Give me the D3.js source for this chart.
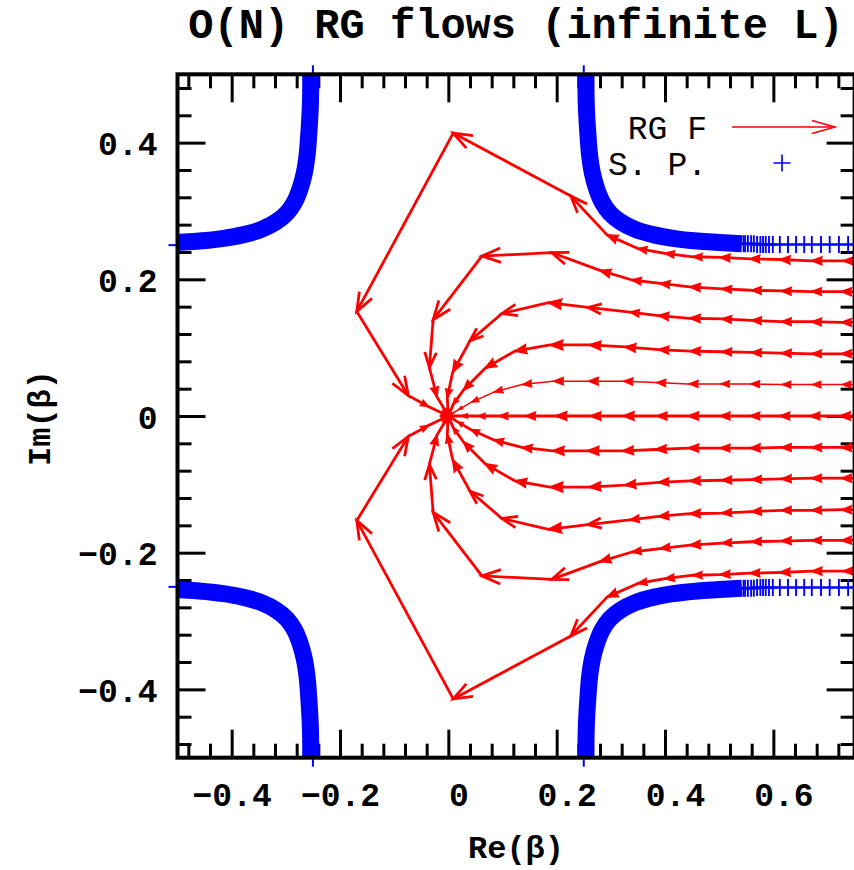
<!DOCTYPE html>
<html><head><meta charset="utf-8">
<script src="https://cdn.jsdelivr.net/npm/d3@7/dist/d3.min.js"></script>
<style>body{margin:0;background:#fff}svg{display:block}</style>
</head><body>
<svg id="chart" width="854" height="870"></svg>
<script>
// ---------------- data ----------------
const titleText = "O(N) RG flows (infinite L)";
const xLabel = "Re(\u03b2)";
const yLabel = "Im(\u03b2)";
const xTicks = [-0.4, -0.2, 0, 0.2, 0.4, 0.6];
const yTicks = [-0.4, -0.2, 0, 0.2, 0.4];
const xMinor = [-0.48,-0.44,-0.36,-0.32,-0.28,-0.24,-0.16,-0.12,-0.08,-0.04,0.04,0.08,0.12,0.16,0.24,0.28,0.32,0.36,0.44,0.48,0.52,0.56,0.64,0.68,0.72];
const yMinor = [-0.48,-0.44,-0.36,-0.32,-0.28,-0.24,-0.16,-0.12,-0.08,-0.04,0.04,0.08,0.12,0.16,0.24,0.28,0.32,0.36,0.44,0.48];
const spTicks = [-0.25, 0.25];

// RG flow trajectories (upper half plane; lower half = complex conjugates), [Re, Im]
const flowA = [[0.782,0.2265],[0.729,0.227],[0.671,0.227],[0.612,0.229],[0.557,0.230],[0.502,0.232],[0.452,0.233],[0.400,0.238],[0.350,0.245],[0.293,0.265],[0.226,0.322],[0.009,0.414],[-0.169,0.153],[-0.074,0.030],[-0.037,0.014],[0,0]];
const flowB = [[0.782,0.181],[0.726,0.182],[0.671,0.182],[0.615,0.183],[0.560,0.184],[0.505,0.186],[0.446,0.189],[0.391,0.194],[0.339,0.199],[0.280,0.213],[0.191,0.239],[0.062,0.234],[-0.028,0.141],[-0.035,0.071],[-0.021,0.028],[0,0]];
const flowC = [[0.782,0.137],[0.726,0.137],[0.671,0.138],[0.615,0.138],[0.560,0.140],[0.505,0.142],[0.446,0.143],[0.388,0.147],[0.335,0.152],[0.258,0.159],[0.185,0.166],[0.099,0.150],[0.040,0.110],[0.008,0.064],[-0.002,0.027],[0,0]];
const flowD = [[0.782,0.091],[0.726,0.091],[0.671,0.091],[0.615,0.092],[0.560,0.093],[0.505,0.094],[0.446,0.095],[0.388,0.097],[0.326,0.101],[0.260,0.104],[0.188,0.104],[0.123,0.095],[0.068,0.070],[0.028,0.038],[0.009,0.017],[0,0]];
const flowE = [[0.782,0.046],[0.726,0.046],[0.671,0.046],[0.615,0.046],[0.557,0.047],[0.502,0.047],[0.443,0.047],[0.383,0.049],[0.322,0.051],[0.257,0.051],[0.193,0.051],[0.136,0.046],[0.084,0.035],[0.042,0.020],[0.018,0.009],[0,0]];
const flowF = [[0.782,0],[0.723,0],[0.668,0],[0.612,0],[0.557,0],[0.502,0],[0.443,0],[0.385,0],[0.323,0],[0.262,0],[0.198,0],[0.143,0],[0.094,0],[0.055,0],[0.025,0],[0,0]];

// singular points, first-quadrant branch (others are mirror images), [Re, Im]
const spBand = [[0.2535,0.52],[0.254,0.50],[0.2545,0.46],[0.257,0.42],[0.261,0.38],[0.266,0.355],[0.274,0.332],[0.284,0.313],[0.298,0.297],[0.318,0.284],[0.345,0.273],[0.38,0.265],[0.415,0.260],[0.46,0.256],[0.50,0.254],[0.542,0.252]];
const spCross = [[0.545,0.252],[0.548,0.252],[0.553,0.252],[0.559,0.252],[0.564,0.252],[0.570,0.251],[0.576,0.251],[0.581,0.251],[0.586,0.251],[0.592,0.251],[0.599,0.251],[0.612,0.251],[0.627,0.251],[0.642,0.251],[0.657,0.251],[0.671,0.251],[0.688,0.251],[0.704,0.251],[0.721,0.251],[0.738,0.251],[0.754,0.251]];

// ---------------- chart ----------------
const svg = d3.select("#chart");
const x = d3.scaleLinear().domain([-0.5, 0.75]).range([177.5, 854.6]);
const y = d3.scaleLinear().domain([-0.5, 0.5]).range([757.7, 74.3]);
const RED = "#ff0000", BLUE = "#0000ff";
const MONO = "'Liberation Mono', 'DejaVu Sans Mono', monospace";

svg.append("defs").append("clipPath").attr("id", "plotclip")
  .append("rect").attr("x", x(-0.5)).attr("y", y(0.5))
  .attr("width", x(0.75) - x(-0.5)).attr("height", y(-0.5) - y(0.5));

// title
svg.append("text").attr("x", 516).attr("y", 38).attr("text-anchor", "middle")
  .attr("font-family", MONO).attr("font-weight", "bold").attr("font-size", 42)
  .text(titleText);

// axis titles
svg.append("text").attr("x", 516).attr("y", 858).attr("text-anchor", "middle")
  .attr("font-family", MONO).attr("font-weight", "bold").attr("font-size", 32)
  .text(xLabel);
svg.append("text").attr("transform", "translate(50,418) rotate(-90)").attr("text-anchor", "middle")
  .attr("font-family", MONO).attr("font-weight", "bold").attr("font-size", 32)
  .text(yLabel);

// axes (ticks inward on four sides)
function styleAxis(g) {
  g.select(".domain").remove();
  g.selectAll(".tick line").attr("stroke", "#000").attr("stroke-width", 3);
}
const gx = svg.append("g").attr("transform", `translate(0,${y(-0.5)})`)
  .call(d3.axisBottom(x).tickValues(xTicks).tickSizeInner(-28).tickSizeOuter(0).tickFormat(d3.format("")));
styleAxis(gx);
gx.selectAll("text").attr("font-family", MONO).attr("font-weight", "bold").attr("font-size", 33)
  .attr("y", 48).attr("dy", 0).attr("dx", d => d >= 0 ? 10 : 0).attr("fill", "#000");
svg.append("g").attr("transform", `translate(0,${y(-0.5)})`)
  .call(d3.axisBottom(x).tickValues(xMinor).tickSizeInner(-14).tickSizeOuter(0).tickFormat("")).call(styleAxis);
svg.append("g").attr("transform", `translate(0,${y(0.5)})`)
  .call(d3.axisTop(x).tickValues(xTicks).tickSizeInner(-28).tickSizeOuter(0).tickFormat("")).call(styleAxis);
svg.append("g").attr("transform", `translate(0,${y(0.5)})`)
  .call(d3.axisTop(x).tickValues(xMinor).tickSizeInner(-14).tickSizeOuter(0).tickFormat("")).call(styleAxis);

const gy = svg.append("g").attr("transform", `translate(${x(-0.5)},0)`)
  .call(d3.axisLeft(y).tickValues(yTicks).tickSizeInner(-28).tickSizeOuter(0).tickFormat(d3.format("")));
styleAxis(gy);
gy.selectAll("text").attr("font-family", MONO).attr("font-weight", "bold").attr("font-size", 33)
  .attr("x", -20).attr("dy", 12).attr("fill", "#000");
svg.append("g").attr("transform", `translate(${x(-0.5)},0)`)
  .call(d3.axisLeft(y).tickValues(yMinor).tickSizeInner(-14).tickSizeOuter(0).tickFormat("")).call(styleAxis);
svg.append("g").attr("transform", `translate(${x(0.75)},0)`)
  .call(d3.axisRight(y).tickValues(yTicks).tickSizeInner(-28).tickSizeOuter(0).tickFormat("")).call(styleAxis);
svg.append("g").attr("transform", `translate(${x(0.75)},0)`)
  .call(d3.axisRight(y).tickValues(yMinor).tickSizeInner(-14).tickSizeOuter(0).tickFormat("")).call(styleAxis);

// small blue marks outside the frame at the singular-point asymptotes
const blueMarks = svg.append("g").attr("stroke", BLUE).attr("stroke-width", 2);
spTicks.forEach(v => {
  blueMarks.append("line").attr("x1", x(v)).attr("x2", x(v)).attr("y1", y(0.5) - 9).attr("y2", y(0.5));
  blueMarks.append("line").attr("x1", x(v)).attr("x2", x(v)).attr("y1", y(-0.5)).attr("y2", y(-0.5) + 9);
  blueMarks.append("line").attr("x1", x(-0.5) - 9).attr("x2", x(-0.5)).attr("y1", y(v)).attr("y2", y(v));
});

const plot = svg.append("g").attr("clip-path", "url(#plotclip)");

// RG flows
function arrowHead(g, p0, p1, width) {
  const dx = p1[0] - p0[0], dy = p1[1] - p0[1];
  const L = Math.hypot(dx, dy);
  if (L < 0.5) return;
  const h = Math.min(L * 0.34, 20);
  const a = Math.atan2(dy, dx), phi = 21 * Math.PI / 180;
  const b1 = [p1[0] - h * Math.cos(a - phi), p1[1] - h * Math.sin(a - phi)];
  const b2 = [p1[0] - h * Math.cos(a + phi), p1[1] - h * Math.sin(a + phi)];
  if (h < 14) {
    const bk = [p1[0] - 0.85 * h * Math.cos(a), p1[1] - 0.85 * h * Math.sin(a)];
    g.append("path").attr("d", `M${b1}L${p1}L${b2}L${bk}Z`).attr("fill", RED).attr("stroke", RED)
      .attr("stroke-width", width * 0.6).attr("stroke-linejoin", "miter");
  } else {
    g.append("path").attr("d", `M${b1}L${p1}L${b2}`).attr("fill", "none").attr("stroke", RED)
      .attr("stroke-width", width).attr("stroke-linejoin", "miter");
  }
}
const line = d3.line().x(d => x(d[0])).y(d => y(d[1]));
function drawFlow(pts, width) {
  const g = plot.append("g");
  g.append("path").attr("d", line(pts)).attr("fill", "none").attr("stroke", RED)
    .attr("stroke-width", width).attr("stroke-linejoin", "round");
  for (let i = 1; i < pts.length; i++) {
    arrowHead(g, [x(pts[i-1][0]), y(pts[i-1][1])], [x(pts[i][0]), y(pts[i][1])], width);
  }
}
const conj = pts => pts.map(p => [p[0], -p[1]]);
[flowA, flowB, flowC, flowD].forEach(f => { drawFlow(f, 2.8); drawFlow(conj(f), 2.8); });
drawFlow(flowE, 1.5);
drawFlow(conj(flowE), 2.8);
drawFlow(flowF, 2.8);

// singular points
const band = d3.line().x(d => x(d[0])).y(d => y(d[1])).curve(d3.curveCatmullRom);
const crossPath = "M-8.5,0H8.5M0,-8.5V8.5";
[[1,1],[-1,1],[1,-1],[-1,-1]].forEach(([sr, si]) => {
  const pts = spBand.map(p => [sr * p[0], si * p[1]]);
  plot.append("path").attr("d", band(pts)).attr("fill", "none").attr("stroke", BLUE)
    .attr("stroke-width", 17);
  plot.selectAll(null).data(spCross.map(p => [sr * p[0], si * p[1]])).enter().append("path")
    .attr("d", crossPath).attr("transform", d => `translate(${x(d[0])},${y(d[1])})`)
    .attr("fill", "none").attr("stroke", BLUE).attr("stroke-width", 1.9);
});

// frame
svg.append("rect").attr("x", x(-0.5)).attr("y", y(0.5))
  .attr("width", x(0.75) - x(-0.5)).attr("height", y(-0.5) - y(0.5))
  .attr("fill", "none").attr("stroke", "#000").attr("stroke-width", 4);

// legend
const leg = svg.append("g");
leg.append("text").attr("x", 707).attr("y", 139).attr("text-anchor", "end")
  .attr("font-family", MONO).attr("font-size", 33).text("RG F");
leg.append("text").attr("x", 707).attr("y", 175).attr("text-anchor", "end")
  .attr("font-family", MONO).attr("font-size", 33).text("S. P.");
leg.append("line").attr("x1", 732).attr("x2", 835).attr("y1", 127).attr("y2", 127)
  .attr("stroke", RED).attr("stroke-width", 1.6);
leg.append("path").attr("d", "M812,120.5L835,127L812,133.5").attr("fill", "none")
  .attr("stroke", RED).attr("stroke-width", 1.6);
leg.append("path").attr("d", crossPath).attr("transform", "translate(782,163)")
  .attr("fill", "none").attr("stroke", BLUE).attr("stroke-width", 1.6);
</script>
</body></html>
